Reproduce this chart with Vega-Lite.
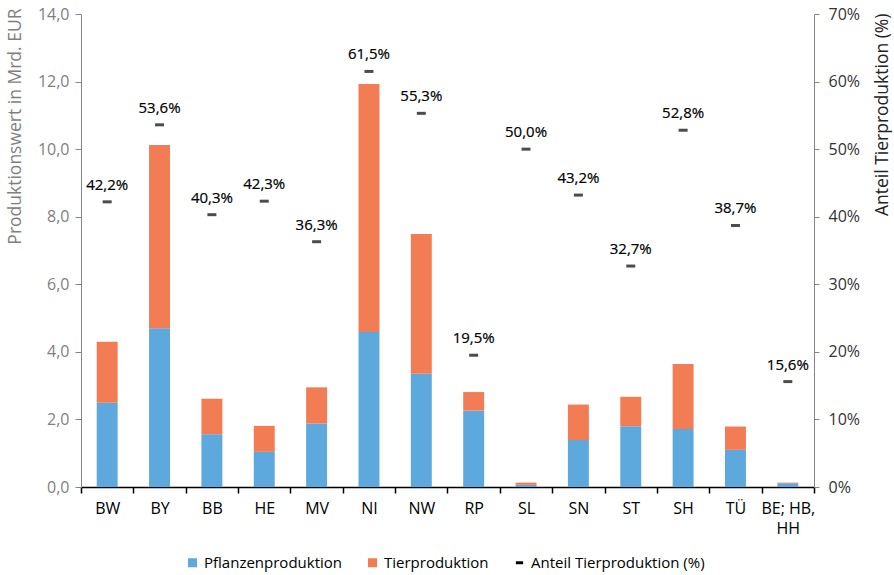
{
  "$schema": "https://vega.github.io/schema/vega-lite/v6.json",
  "width": 733,
  "height": 473,
  "autosize": {"type": "none"},
  "padding": {"left": 81, "top": 14, "right": 80, "bottom": 88},
  "background": "white",
  "config": {
    "locale": {
      "number": {"decimal": ",", "thousands": ".", "grouping": [3], "currency": ["", " €"]}
    },
    "font": "Open Sans",
    "view": {"stroke": null},
    "axis": {"grid": false, "labelFont": "Open Sans", "titleFont": "Open Sans", "titleFontWeight": "normal"}
  },
  "datasets": {
    "production": [
      {"land": "BW", "art": "Pflanzenproduktion", "wert": 2.49},
      {"land": "BW", "art": "Tierproduktion", "wert": 1.81},
      {"land": "BY", "art": "Pflanzenproduktion", "wert": 4.70},
      {"land": "BY", "art": "Tierproduktion", "wert": 5.42},
      {"land": "BB", "art": "Pflanzenproduktion", "wert": 1.56},
      {"land": "BB", "art": "Tierproduktion", "wert": 1.05},
      {"land": "HE", "art": "Pflanzenproduktion", "wert": 1.04},
      {"land": "HE", "art": "Tierproduktion", "wert": 0.77},
      {"land": "MV", "art": "Pflanzenproduktion", "wert": 1.88},
      {"land": "MV", "art": "Tierproduktion", "wert": 1.07},
      {"land": "NI", "art": "Pflanzenproduktion", "wert": 4.59},
      {"land": "NI", "art": "Tierproduktion", "wert": 7.34},
      {"land": "NW", "art": "Pflanzenproduktion", "wert": 3.35},
      {"land": "NW", "art": "Tierproduktion", "wert": 4.14},
      {"land": "RP", "art": "Pflanzenproduktion", "wert": 2.26},
      {"land": "RP", "art": "Tierproduktion", "wert": 0.55},
      {"land": "SL", "art": "Pflanzenproduktion", "wert": 0.065},
      {"land": "SL", "art": "Tierproduktion", "wert": 0.065},
      {"land": "SN", "art": "Pflanzenproduktion", "wert": 1.39},
      {"land": "SN", "art": "Tierproduktion", "wert": 1.05},
      {"land": "ST", "art": "Pflanzenproduktion", "wert": 1.80},
      {"land": "ST", "art": "Tierproduktion", "wert": 0.87},
      {"land": "SH", "art": "Pflanzenproduktion", "wert": 1.72},
      {"land": "SH", "art": "Tierproduktion", "wert": 1.92},
      {"land": "TÜ", "art": "Pflanzenproduktion", "wert": 1.10},
      {"land": "TÜ", "art": "Tierproduktion", "wert": 0.69},
      {"land": "BE; HB, HH", "art": "Pflanzenproduktion", "wert": 0.11},
      {"land": "BE; HB, HH", "art": "Tierproduktion", "wert": 0.02}
    ],
    "anteil": [
      {"land": "BW", "anteil": 0.422},
      {"land": "BY", "anteil": 0.536},
      {"land": "BB", "anteil": 0.403},
      {"land": "HE", "anteil": 0.423},
      {"land": "MV", "anteil": 0.363},
      {"land": "NI", "anteil": 0.615},
      {"land": "NW", "anteil": 0.553},
      {"land": "RP", "anteil": 0.195},
      {"land": "SL", "anteil": 0.500},
      {"land": "SN", "anteil": 0.432},
      {"land": "ST", "anteil": 0.327},
      {"land": "SH", "anteil": 0.528},
      {"land": "TÜ", "anteil": 0.387},
      {"land": "BE; HB, HH", "anteil": 0.156}
    ]
  },
  "encoding": {
    "x": {
      "field": "land",
      "type": "nominal",
      "sort": null,
      "scale": {
        "domain": ["BW", "BY", "BB", "HE", "MV", "NI", "NW", "RP", "SL", "SN", "ST", "SH", "TÜ", "BE; HB, HH"],
        "paddingInner": 0,
        "paddingOuter": 0
      },
      "axis": {
        "title": null,
        "labelAngle": 0,
        "labelFontSize": 16,
        "labelColor": "#000000",
        "labelPadding": 7,
        "labelLineHeight": 20,
        "labelExpr": "datum.value === 'BE; HB, HH' ? ['BE; HB,', 'HH'] : datum.label",
        "domainColor": "#000000",
        "domainWidth": 1.5,
        "tickColor": "#000000",
        "tickWidth": 1.5,
        "tickSize": 6,
        "tickBand": "extent"
      }
    }
  },
  "layer": [
    {
      "data": {"name": "production"},
      "mark": {"type": "bar", "width": {"band": 0.4}},
      "encoding": {
        "y": {
          "field": "wert",
          "type": "quantitative",
          "stack": "zero",
          "scale": {"domain": [0, 14], "nice": false},
          "axis": {
            "title": "Produktionswert in Mrd. EUR",
            "titleColor": "#7F7F7F",
            "titleFontSize": 17.5,
            "titlePadding": 13,
            "titleAnchor": "end",
            "titleY": -6,
            "values": [0, 2, 4, 6, 8, 10, 12, 14],
            "format": ".1f",
            "labelFontSize": 16,
            "labelColor": "#7F7F7F",
            "labelPadding": 6,
            "domainColor": "#868686",
            "tickColor": "#868686",
            "tickSize": 6
          }
        },
        "color": {
          "field": "art",
          "type": "nominal",
          "scale": {
            "domain": ["Pflanzenproduktion", "Tierproduktion", "Anteil Tierproduktion (%)"],
            "range": ["#5DA8DC", "#F27C53", "#000000"]
          },
          "legend": {
            "title": null,
            "orient": "none",
            "direction": "horizontal",
            "legendX": 104,
            "legendY": 541,
            "padding": 0,
            "symbolSize": 81,
            "symbolStrokeWidth": 0,
            "labelFontSize": 15,
            "labelLimit": 400,
            "labelColor": "#000000",
            "labelOffset": 4,
            "columnPadding": 23,
            "encode": {
              "symbols": {
                "update": {
                  "shape": {"signal": "datum.value === 'Anteil Tierproduktion (%)' ? 'M-0.8,-0.33L0.8,-0.33L0.8,0.33L-0.8,0.33Z' : 'square'"}
                }
              }
            }
          }
        },
        "order": {"field": "art", "sort": "ascending"}
      }
    },
    {
      "data": {"name": "anteil"},
      "layer": [
        {
          "mark": {"type": "tick", "size": 9, "thickness": 3},
          "encoding": {
            "y": {
              "field": "anteil",
              "type": "quantitative",
              "scale": {"domain": [0, 0.7], "nice": false},
              "axis": {
                "orient": "right",
                "title": "Anteil Tierproduktion (%)",
                "titleColor": "#222222",
                "titleFontSize": 17.5,
                "titleAngle": 270,
                "titleBaseline": "top",
                "titleAnchor": "end",
                "titleY": -1,
                "titlePadding": 14,
                "values": [0, 0.1, 0.2, 0.3, 0.4, 0.5, 0.6, 0.7],
                "format": ".0%",
                "labelFontSize": 16,
                "labelColor": "#333333",
                "labelPadding": 9,
                "domainColor": "#868686",
                "tickColor": "#868686",
                "tickSize": 5
              }
            },
            "color": {"datum": "Anteil Tierproduktion (%)"}
          }
        },
        {
          "mark": {"type": "text", "baseline": "alphabetic", "dy": -12, "fontSize": 15, "color": "#000000", "stroke": "#000000", "strokeWidth": 0.2},
          "encoding": {
            "y": {"field": "anteil", "type": "quantitative"},
            "text": {"field": "anteil", "type": "quantitative", "format": ".1%"}
          }
        }
      ]
    }
  ],
  "resolve": {"scale": {"y": "independent"}}
}
